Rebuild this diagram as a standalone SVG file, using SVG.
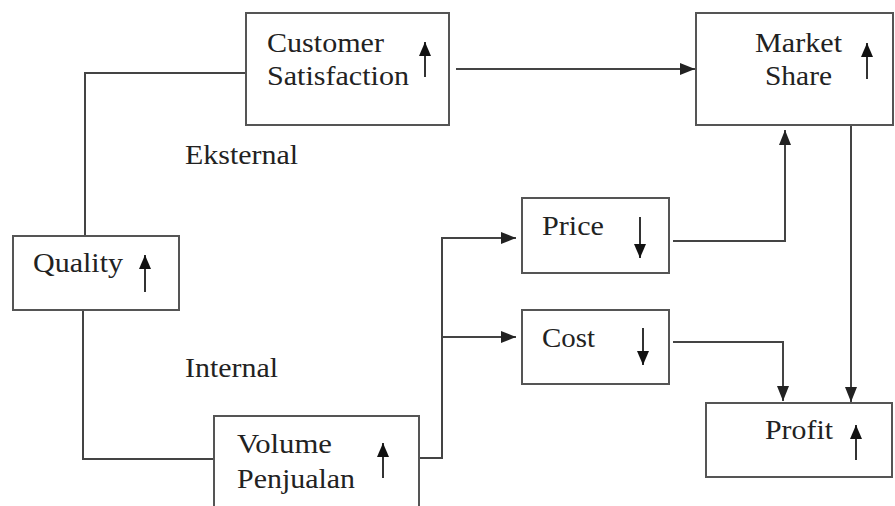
<svg xmlns="http://www.w3.org/2000/svg" width="895" height="506" viewBox="0 0 895 506">
<defs>
<marker id="ah" markerUnits="userSpaceOnUse" markerWidth="15" markerHeight="12" refX="15" refY="6" orient="auto">
<path d="M0,0 L15,6 L0,12 z" fill="#222"/>
</marker>
<marker id="sm" markerUnits="userSpaceOnUse" markerWidth="14" markerHeight="12" refX="14" refY="6" orient="auto">
<path d="M0,0 L14,6 L0,12 z" fill="#111"/>
</marker>
<style>
.box{fill:#fff;stroke:#555;stroke-width:2}
.t{font-family:"Liberation Serif","Times New Roman",serif;font-size:27px;fill:#222}
.c{fill:none;stroke:#444;stroke-width:2}
.ia{stroke:#333;stroke-width:2;marker-end:url(#sm)}
</style>
</defs>
<rect width="895" height="506" fill="#fff"/>
<g id="connectors">
<path class="c" d="M85,236 V73 H246"/>
<path class="c" d="M456,69 H695" marker-end="url(#ah)"/>
<path class="c" d="M83,310 V459 H214"/>
<path class="c" d="M419,458 H442 V238 H516" marker-end="url(#ah)"/>
<path class="c" d="M442,337 H516" marker-end="url(#ah)"/>
<path class="c" d="M673,241 H785 V130" marker-end="url(#ah)"/>
<path class="c" d="M851,125 V402" marker-end="url(#ah)"/>
<path class="c" d="M673,342 H783 V401" marker-end="url(#ah)"/>
</g>
<g id="customer-satisfaction">
<rect class="box" x="246" y="13" width="203" height="112"/>
<text class="t" x="267" y="52" textLength="117" lengthAdjust="spacingAndGlyphs">Customer</text>
<text class="t" x="267" y="85" textLength="142" lengthAdjust="spacingAndGlyphs">Satisfaction</text>
<line class="ia" x1="425" y1="77" x2="425" y2="42"/>
</g>
<g id="market-share">
<rect class="box" x="696" y="13" width="197" height="112"/>
<text class="t" x="755" y="52" textLength="87" lengthAdjust="spacingAndGlyphs">Market</text>
<text class="t" x="765" y="85" textLength="67" lengthAdjust="spacingAndGlyphs">Share</text>
<line class="ia" x1="867" y1="79" x2="867" y2="43"/>
</g>
<g id="quality">
<rect class="box" x="13" y="236" width="166" height="74"/>
<text class="t" x="33" y="272" textLength="90" lengthAdjust="spacingAndGlyphs">Quality</text>
<line class="ia" x1="145" y1="292" x2="145" y2="255"/>
</g>
<g id="price">
<rect class="box" x="522" y="198" width="147" height="75"/>
<text class="t" x="542" y="235" textLength="62" lengthAdjust="spacingAndGlyphs">Price</text>
<line class="ia" x1="640" y1="217" x2="640" y2="258"/>
</g>
<g id="cost">
<rect class="box" x="522" y="310" width="147" height="74"/>
<text class="t" x="542" y="347" textLength="53" lengthAdjust="spacingAndGlyphs">Cost</text>
<line class="ia" x1="643" y1="328" x2="643" y2="365"/>
</g>
<g id="profit">
<rect class="box" x="706" y="403" width="186" height="74"/>
<text class="t" x="765" y="439" textLength="68" lengthAdjust="spacingAndGlyphs">Profit</text>
<line class="ia" x1="856" y1="460" x2="856" y2="425"/>
</g>
<g id="volume-penjualan">
<rect class="box" x="214" y="416" width="205" height="100"/>
<text class="t" x="237" y="453" textLength="95" lengthAdjust="spacingAndGlyphs">Volume</text>
<text class="t" x="237" y="488" textLength="118" lengthAdjust="spacingAndGlyphs">Penjualan</text>
<line class="ia" x1="383" y1="478" x2="383" y2="443"/>
</g>
<g id="labels">
<text class="t" x="185" y="164" textLength="113" lengthAdjust="spacingAndGlyphs">Eksternal</text>
<text class="t" x="185" y="377" textLength="93" lengthAdjust="spacingAndGlyphs">Internal</text>
</g>
</svg>
